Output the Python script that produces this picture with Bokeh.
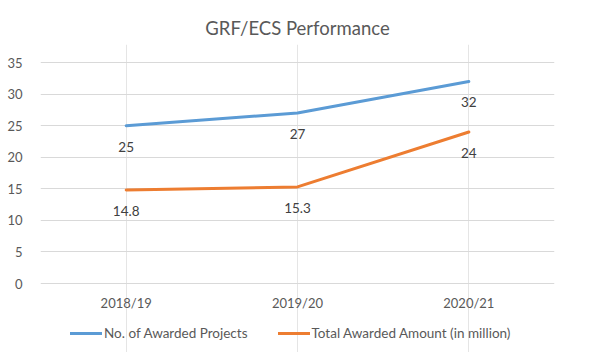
from bokeh.plotting import figure
from bokeh.models import ColumnDataSource, Legend, LegendItem, FactorRange, Range1d, LabelSet
from bokeh.core.properties import value
from bokeh.embed import file_html
from bokeh.resources import INLINE

years = ["2018/19", "2019/20", "2020/21"]
projects = [25, 27, 32]
amount = [14.8, 15.3, 24]
projects_labels = ["25", "27", "32"]
amount_labels = ["14.8", "15.3", "24"]
y_ticks = [0, 5, 10, 15, 20, 25, 30, 35]

FONT = "Lato"
GREY = "#595959"
BLUE = "#5B9BD5"
ORANGE = "#ED7D31"

# layout (pixels)
W, H = 592, 352
TOP, LEFT, RIGHT = 44, 40, 38
Y35_PX, Y0_PX = 62, 283
k = (Y0_PX - Y35_PX) / 35.0
y_hi = 35 + (Y35_PX - TOP) / k
y_lo = -(H - Y0_PX) / k

p = figure(width=W, height=H, x_range=FactorRange(*years), y_range=Range1d(y_lo, y_hi),
           x_axis_location=None, output_backend="svg", toolbar_location=None,
           min_border_left=LEFT, min_border_right=RIGHT, min_border_top=TOP, min_border_bottom=0)
p.title.text = "GRF/ECS Performance"
p.title.align = "center"
p.title.text_font = FONT
p.title.text_font_size = "18.5px"
p.title.text_font_style = "normal"
p.title.text_color = GREY
p.title.standoff = 12

p.outline_line_color = None
p.border_fill_color = "white"
p.background_fill_color = "white"

p.ygrid.grid_line_color = "#D9D9D9"
p.ygrid.grid_line_width = 1
p.yaxis.ticker = y_ticks
p.yaxis.axis_line_color = None
p.yaxis.major_tick_line_color = None
p.yaxis.minor_tick_line_color = None
p.yaxis.major_label_text_font = FONT
p.yaxis.major_label_text_font_size = "13px"
p.yaxis.major_label_text_color = GREY
p.yaxis.major_label_standoff = 12

src = ColumnDataSource(dict(x=years, p=projects, a=amount, pl=projects_labels, al=amount_labels,
                            base=[0] * len(years)))
r1 = p.line("x", "p", source=src, line_color=BLUE, line_width=3, line_cap="round", line_join="round")
r2 = p.line("x", "a", source=src, line_color=ORANGE, line_width=3, line_cap="round", line_join="round")

# category labels under the zero line
p.add_layout(LabelSet(x="x", y="base", text="x", source=src, text_align="center",
                      text_baseline="middle", y_offset=-19, text_font=value(FONT),
                      text_font_size=value("13px"), text_color=value(GREY)))

for col, lab in (("p", "pl"), ("a", "al")):
    p.add_layout(LabelSet(x="x", y=col, text=lab, source=src, text_align="center",
                          text_baseline="middle", y_offset=-21, text_font=value(FONT),
                          text_font_size=value("13.5px"), text_color=value("#404040")))

legend = Legend(items=[LegendItem(label="No. of Awarded Projects", renderers=[r1]),
                       LegendItem(label="Total Awarded Amount (in million)", renderers=[r2])],
                orientation="horizontal", location=(30, 11),
                label_text_font=FONT, label_text_font_size="13.5px", label_text_color=GREY,
                glyph_width=32, glyph_height=14, label_standoff=2, spacing=30, padding=0, margin=0,
                border_line_color=None, background_fill_alpha=0)
p.add_layout(legend, "center")

open("out.html", "w").write(file_html(p, INLINE))
